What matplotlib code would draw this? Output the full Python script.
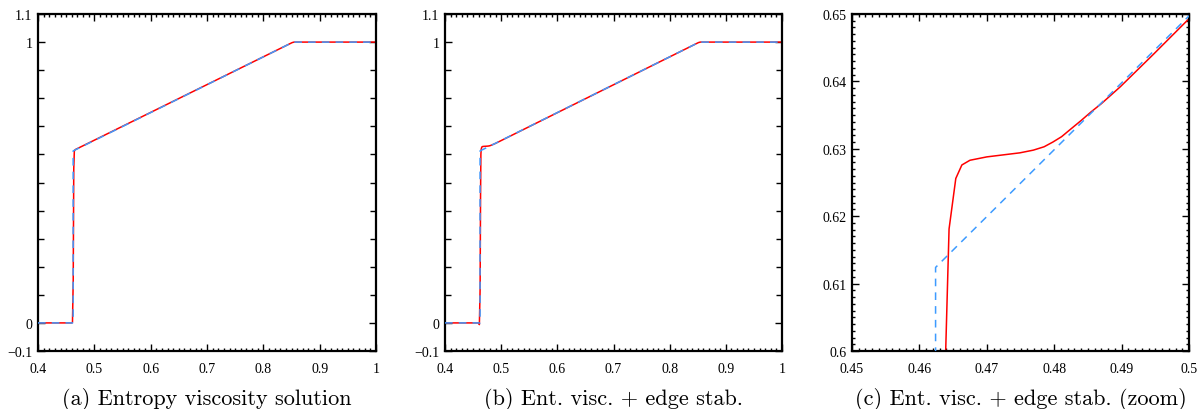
import numpy as np
import matplotlib
matplotlib.use("Agg")
import matplotlib.pyplot as plt
from matplotlib.ticker import FixedLocator

# exact solution (blue dashed)
exact_x = [0.4, 0.4624, 0.4624, 0.853, 1.0]
exact_y = [0.0, 0.0, 0.6124, 1.0, 1.0]

# entropy viscosity solution (panel a, red)
ev_x = [0.4, 0.4600, 0.4612, 0.4625, 0.4635, 0.4645, 0.4660, 0.851, 0.8545, 1.0]
ev_y = [0.0, 0.0, 0.002, 0.15, 0.55, 0.612, 0.617, 0.998, 1.0, 1.0]

# entropy viscosity + edge stabilisation (panels b, c, red)
es_x = [0.4, 0.4598, 0.4612, 0.4625, 0.4633, 0.4639, 0.4644, 0.4654, 0.4663,
        0.4675, 0.4700, 0.4749, 0.4769, 0.4785, 0.4798, 0.4811, 0.4823,
        0.4840, 0.4855, 0.4870, 0.4898, 0.4947, 0.5000, 0.851, 0.8545, 1.0]
es_y = [0.0, 0.0, -0.006, 0.12, 0.45, 0.600, 0.6181, 0.6256, 0.6276,
        0.6283, 0.6288, 0.6294, 0.6298, 0.6303, 0.6310, 0.6318, 0.6328,
        0.6342, 0.6355, 0.6367, 0.6392, 0.6440, 0.6493, 0.998, 1.0, 1.0]

full_xticks = [0.4, 0.5, 0.6, 0.7, 0.8, 0.9, 1.0]
full_xlabels = ["0.4", "0.5", "0.6", "0.7", "0.8", "0.9", "1"]
full_yticks = [-0.1, 0.0, 1.0, 1.1]
full_ylabels = ["\u22120.1", "0", "1", "1.1"]
zoom_xticks = [0.45, 0.46, 0.47, 0.48, 0.49, 0.5]
zoom_xlabels = ["0.45", "0.46", "0.47", "0.48", "0.49", "0.5"]
zoom_yticks = [0.6, 0.61, 0.62, 0.63, 0.64, 0.65]
zoom_ylabels = ["0.6", "0.61", "0.62", "0.63", "0.64", "0.65"]

captions = ["(a) Entropy viscosity solution",
            "(b) Ent. visc. + edge stab.",
            "(c) Ent. visc. + edge stab. (zoom)"]

RED = "#ff0000"
BLUE = "#3d9bff"
TICK_FONT = {"family": "Liberation Serif", "size": 10}

fig = plt.figure(figsize=(12.04, 4.10), dpi=100)
W, H = 1204, 410
boxes = [(38, 376), (445, 782), (852, 1189)]
top_px, bot_px = 15, 352


def style_axes(ax):
    for s in ax.spines.values():
        s.set_linewidth(1.6)
    ax.tick_params(which="both", direction="in", top=True, right=True,
                   pad=4, width=1.0)
    ax.tick_params(axis="x", which="both", pad=8)
    ax.tick_params(which="major", length=5)
    ax.tick_params(which="minor", length=2.5)


axes = []
for left, right in boxes:
    ax = fig.add_axes([left / W, (H - bot_px) / H, (right - left) / W,
                       (bot_px - top_px) / H])
    axes.append(ax)

# full-range panels
for ax, (xs, ys) in zip(axes[:2], [(ev_x, ev_y), (es_x, es_y)]):
    ax.plot(xs, ys, color=RED, lw=1.1, zorder=2)
    ax.plot(exact_x, exact_y, color=BLUE, lw=1.1, ls=(0, (5, 4)), zorder=3)
    ax.set_xlim(0.4, 1.0)
    ax.set_ylim(-0.1, 1.1)
    ax.set_xticks(full_xticks)
    ax.set_xticklabels(full_xlabels, fontdict=TICK_FONT)
    ax.xaxis.set_minor_locator(FixedLocator(np.arange(40, 101) / 100))
    ax.set_yticks(full_yticks)
    ax.set_yticklabels(full_ylabels, fontdict=TICK_FONT)
    ax.yaxis.set_minor_locator(FixedLocator(np.arange(1, 10) / 10))
    style_axes(ax)
    ax.tick_params(axis="y", which="minor", length=4)

# zoom panel
ax = axes[2]
ax.plot(es_x, es_y, color=RED, lw=1.1, zorder=2)
ax.plot(exact_x, exact_y, color=BLUE, lw=1.1, ls=(0, (5, 4)), zorder=3)
ax.set_xlim(0.45, 0.5)
ax.set_ylim(0.6, 0.65)
ax.set_xticks(zoom_xticks)
ax.set_xticklabels(zoom_xlabels, fontdict=TICK_FONT)
ax.xaxis.set_minor_locator(FixedLocator(np.arange(450, 501) / 1000))
ax.set_yticks(zoom_yticks)
ax.set_yticklabels(zoom_ylabels, fontdict=TICK_FONT)
ax.yaxis.set_minor_locator(FixedLocator(np.arange(600, 651) / 1000))
style_axes(ax)

for (left, right), cap in zip(boxes, captions):
    fig.text((left + right) / 2 / W, 10 / H, cap, ha="center", va="center",
             fontsize=16, family="cmr10")

fig.savefig("out.png", dpi=100)
